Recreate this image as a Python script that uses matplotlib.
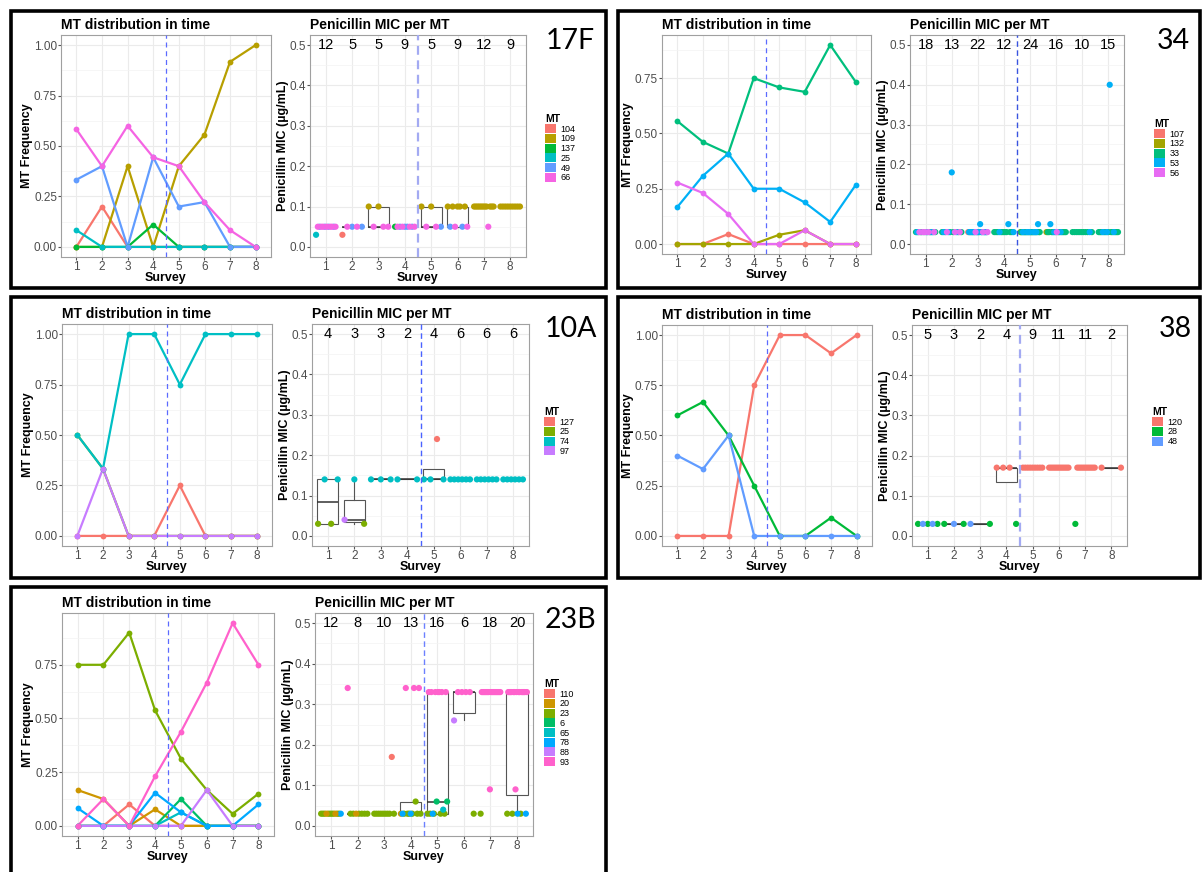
import numpy as np
import matplotlib.pyplot as plt
from matplotlib.patches import Patch, Rectangle

plt.rcParams['font.family'] = ['Liberation Sans', 'DejaVu Sans']

W, H = 1203, 872
surveys = [1, 2, 3, 4, 5, 6, 7, 8]

# ---- 17F ----
F17_mts = ['104', '109', '137', '25', '49', '66']
F17_freq = [
    [0, 0.2, 0, 0, 0, 0, 0, 0],
    [0, 0, 0.4, 0, 0.4, 0.556, 0.917, 1.0],
    [0, 0, 0, 0.111, 0, 0, 0, 0],
    [0.083, 0, 0, 0, 0, 0, 0, 0],
    [0.333, 0.4, 0, 0.444, 0.2, 0.222, 0, 0],
    [0.583, 0.4, 0.6, 0.444, 0.4, 0.222, 0.083, 0],
]
F17_counts = [12, 5, 5, 9, 5, 9, 12, 9]
# (survey, MT, MIC, number of isolates)
F17_mic = [
    (1, '25', 0.03, 1), (1, '49', 0.05, 4), (1, '66', 0.05, 7),
    (2, '104', 0.03, 1), (2, '49', 0.05, 2), (2, '66', 0.05, 2),
    (3, '109', 0.10, 2), (3, '66', 0.05, 3),
    (4, '137', 0.05, 1), (4, '49', 0.05, 4), (4, '66', 0.05, 4),
    (5, '109', 0.10, 2), (5, '49', 0.05, 1), (5, '66', 0.05, 2),
    (6, '109', 0.10, 5), (6, '49', 0.05, 2), (6, '66', 0.05, 2),
    (7, '109', 0.10, 11), (7, '66', 0.05, 1),
    (8, '109', 0.10, 9),
]

# ---- 34 ----
P34_mts = ['107', '132', '33', '53', '56']
P34_freq = [
    [0, 0, 0.045, 0, 0, 0, 0, 0],
    [0, 0, 0, 0, 0.042, 0.0625, 0, 0],
    [0.556, 0.462, 0.409, 0.75, 0.708, 0.688, 0.9, 0.733],
    [0.167, 0.308, 0.409, 0.25, 0.25, 0.188, 0.1, 0.267],
    [0.278, 0.231, 0.136, 0, 0, 0.0625, 0, 0],
]
P34_counts = [18, 13, 22, 12, 24, 16, 10, 15]
P34_mic = [
    (1, '33', 0.03, 10), (1, '53', 0.03, 3), (1, '56', 0.03, 5),
    (2, '33', 0.03, 6), (2, '53', 0.03, 3), (2, '53', 0.18, 1), (2, '56', 0.03, 3),
    (3, '107', 0.03, 1), (3, '53', 0.05, 1), (3, '33', 0.03, 9), (3, '53', 0.03, 8), (3, '56', 0.03, 3),
    (4, '33', 0.03, 9), (4, '53', 0.03, 2), (4, '53', 0.05, 1),
    (5, '132', 0.03, 1), (5, '33', 0.03, 17), (5, '53', 0.03, 5), (5, '53', 0.05, 1),
    (6, '132', 0.03, 1), (6, '33', 0.03, 11), (6, '53', 0.03, 2), (6, '53', 0.05, 1), (6, '56', 0.03, 1),
    (7, '33', 0.03, 9), (7, '53', 0.03, 1),
    (8, '33', 0.03, 11), (8, '53', 0.03, 3), (8, '53', 0.40, 1),
]

# ---- 10A ----
A10_mts = ['127', '25', '74', '97']
A10_freq = [
    [0, 0, 0, 0, 0.25, 0, 0, 0],
    [0.5, 0.333, 0, 0, 0, 0, 0, 0],
    [0.5, 0.333, 1, 1, 0.75, 1, 1, 1],
    [0, 0.333, 0, 0, 0, 0, 0, 0],
]
A10_counts = [4, 3, 3, 2, 4, 6, 6, 6]
A10_mic = [
    (1, '25', 0.03, 2), (1, '74', 0.14, 2),
    (2, '97', 0.04, 1), (2, '25', 0.03, 1), (2, '74', 0.14, 1),
    (3, '74', 0.14, 3), (4, '74', 0.14, 2),
    (5, '74', 0.14, 1), (5, '127', 0.24, 1), (5, '74', 0.14, 2),
    (6, '74', 0.14, 6), (7, '74', 0.14, 6), (8, '74', 0.14, 6),
]

# ---- 38 ----
P38_mts = ['120', '28', '48']
P38_freq = [
    [0, 0, 0, 0.75, 1, 1, 0.909, 1],
    [0.6, 0.667, 0.5, 0.25, 0, 0, 0.091, 0],
    [0.4, 0.333, 0.5, 0, 0, 0, 0, 0],
]
P38_counts = [5, 3, 2, 4, 9, 11, 11, 2]
P38_mic = [
    (1, '28', 0.03, 3), (1, '48', 0.03, 2),
    (2, '28', 0.03, 2), (2, '48', 0.03, 1),
    (3, '48', 0.03, 1), (3, '28', 0.03, 1),
    (4, '120', 0.17, 3), (4, '28', 0.03, 1),
    (5, '120', 0.17, 9), (6, '120', 0.17, 11),
    (7, '28', 0.03, 1), (7, '120', 0.17, 10),
    (8, '120', 0.17, 2),
]

# ---- 23B ----
B23_mts = ['110', '20', '23', '6', '65', '78', '88', '93']
B23_freq = [
    [0, 0, 0.1, 0, 0, 0, 0, 0],
    [0.167, 0.125, 0, 0.077, 0, 0, 0, 0],
    [0.75, 0.75, 0.9, 0.538, 0.313, 0.167, 0.056, 0.15],
    [0, 0, 0, 0, 0.125, 0, 0, 0],
    [0, 0, 0, 0, 0.063, 0, 0, 0],
    [0.083, 0, 0, 0.154, 0.063, 0, 0, 0.1],
    [0, 0, 0, 0, 0, 0.167, 0, 0],
    [0, 0.125, 0, 0.231, 0.438, 0.667, 0.944, 0.75],
]
B23_counts = [12, 8, 10, 13, 16, 6, 18, 20]
B23_mic = [
    (1, '23', 0.03, 9), (1, '78', 0.03, 1), (1, '20', 0.03, 2),
    (2, '93', 0.34, 1), (2, '23', 0.03, 6), (2, '20', 0.03, 1),
    (3, '23', 0.03, 9), (3, '110', 0.17, 1),
    (4, '20', 0.03, 1), (4, '23', 0.03, 6), (4, '23', 0.06, 1), (4, '78', 0.03, 2), (4, '93', 0.34, 3),
    (5, '23', 0.03, 5), (5, '6', 0.06, 2), (5, '65', 0.04, 1), (5, '78', 0.03, 1), (5, '93', 0.33, 7),
    (6, '88', 0.26, 1), (6, '23', 0.03, 1), (6, '93', 0.33, 4),
    (7, '23', 0.03, 1), (7, '93', 0.33, 16), (7, '93', 0.09, 1),
    (8, '23', 0.03, 3), (8, '78', 0.03, 2), (8, '93', 0.33, 14), (8, '93', 0.09, 1),
]

# ggplot default hue palettes
pal = {
    3: ['#F8766D', '#00BA38', '#619CFF'],
    4: ['#F8766D', '#7CAE00', '#00BFC4', '#C77CFF'],
    5: ['#F8766D', '#A3A500', '#00BF7D', '#00B0F6', '#E76BF3'],
    6: ['#F8766D', '#B79F00', '#00BA38', '#00BFC4', '#619CFF', '#F564E3'],
    8: ['#F8766D', '#CD9600', '#7CAE00', '#00BE67', '#00BFC4', '#00A9FF', '#C77CFF', '#FF61CC'],
}

# layout in pixels: frame, left axes, right axes, legend anchor, label pos, dashed line styles
panels = [
    dict(name='17F', mts=F17_mts, freq=F17_freq, counts=F17_counts, mic=F17_mic,
         frame=(11, 11, 606, 288), L=(61, 35, 271, 257), R=(310, 35, 526, 257),
         leg=(545, 114), lab=(546, 49), vr=('#a3aaf2', 1.6)),
    dict(name='34', mts=P34_mts, freq=P34_freq, counts=P34_counts, mic=P34_mic,
         frame=(618, 11, 1200, 288), L=(662, 35, 871, 254), R=(910, 35, 1124, 254),
         leg=(1154, 119), lab=(1157, 49), vr=('#3a55e0', 1.0)),
    dict(name='10A', mts=A10_mts, freq=A10_freq, counts=A10_counts, mic=A10_mic,
         frame=(11, 297, 606, 578), L=(62, 324, 272, 546), R=(312, 324, 529, 546),
         leg=(544, 407), lab=(545, 337), vr=('#4a62ff', 1.0)),
    dict(name='38', mts=P38_mts, freq=P38_freq, counts=P38_counts, mic=P38_mic,
         frame=(618, 297, 1200, 578), L=(662, 325, 872, 546), R=(912, 325, 1127, 546),
         leg=(1152, 407), lab=(1159, 337), vr=('#a3aaf2', 1.6)),
    dict(name='23B', mts=B23_mts, freq=B23_freq, counts=B23_counts, mic=B23_mic,
         frame=(11, 587, 606, 880), L=(62, 613, 274, 836), R=(315, 613, 533, 836),
         leg=(544, 679), lab=(545, 628), vr=('#6c80ff', 1.0)),
]

fig = plt.figure(figsize=(W / 100, H / 100), dpi=100)


def add_ax(l, t, r, b):
    return fig.add_axes([l / W, 1 - b / H, (r - l) / W, (b - t) / H])


def style(ax, box, ylabel, ypad):
    l, t, r, b = box
    ax.set_facecolor('white')
    ax.set_axisbelow(True)
    ax.grid(True, which='major', color='#ebebeb', lw=0.8)
    ax.grid(True, which='minor', axis='y', color='#f3f3f3', lw=0.5)
    for s in ax.spines.values():
        s.set_color('#a0a0a0')
        s.set_linewidth(0.8)
    ax.tick_params(which='major', length=2, color='#555555', labelsize=8.5,
                   labelcolor='#4d4d4d', pad=0.8)
    ax.tick_params(which='minor', length=0)
    ax.set_xlim(0.4, 8.6)
    ax.set_xticks(surveys)
    ax.set_xlabel('Survey', fontweight='bold', fontsize=9)
    ax.xaxis.set_label_coords(0.5, -15 / (b - t))
    ax.set_ylabel(ylabel, fontweight='bold', fontsize=9)
    ax.yaxis.set_label_coords(-ypad / (r - l), 0.5)


for p in panels:
    cols = pal[len(p['mts'])]
    cmap = dict(zip(p['mts'], cols))

    # frequency over time
    ax = add_ax(*p['L'])
    style(ax, p['L'], 'MT Frequency', 28)
    for i, f in enumerate(p['freq']):
        ax.plot(surveys, f, color=cols[i], lw=1.6, zorder=2)
    for i, f in enumerate(p['freq']):
        ax.plot(surveys, f, 'o', color=cols[i], ms=4.2, mec='none', zorder=3)
    ymax = max(max(f) for f in p['freq'])
    ax.set_ylim(-0.05 * ymax, 1.05 * ymax)
    ax.set_yticks([t for t in [0, 0.25, 0.5, 0.75, 1.0] if t <= ymax + 1e-9])
    ax.set_yticks([0.125, 0.375, 0.625, 0.875], minor=True)
    ax.yaxis.set_major_formatter(plt.FormatStrFormatter('%.2f'))
    ax.axvline(4.5, color='#5c6bff', lw=0.9, ls=(0, (4, 3)), zorder=4)
    ax.set_title('MT distribution in time', loc='left', fontweight='bold',
                 fontsize=10, pad=4)

    # MIC per survey
    ax2 = add_ax(*p['R'])
    values = {s: [] for s in surveys}
    pts = {s: [] for s in surveys}
    for s, mt, v, n in p['mic']:
        for _ in range(n):
            values[s].append(v)
            pts[s].append((v, cmap[mt]))
    ax2.boxplot([values[s] for s in surveys], positions=surveys, widths=0.8,
                showfliers=False, patch_artist=True, manage_ticks=False,
                boxprops=dict(facecolor='white', edgecolor='#555555', lw=0.8),
                medianprops=dict(color='#333333', lw=1.1),
                whiskerprops=dict(color='#555555', lw=0.8),
                capprops=dict(visible=False), zorder=2)
    style(ax2, p['R'], 'Penicillin MIC (µg/mL)', 21)
    for s in surveys:
        n = len(pts[s])
        xs = np.linspace(-0.37, 0.37, n) if n > 1 else np.zeros(1)
        order = np.argsort((np.arange(n) * 0.618) % 1)
        for k, (v, c) in enumerate(pts[s]):
            ax2.scatter(s + xs[order[k]], v, s=20, color=c, edgecolors='none', zorder=3)
        ax2.text(s, 0.5, str(p['counts'][s - 1]), ha='center', va='center',
                 fontsize=10.5, color='black', zorder=4)
    ax2.set_ylim(-0.025, 0.525)
    ax2.set_yticks([0, 0.1, 0.2, 0.3, 0.4, 0.5])
    ax2.set_yticks([0.05, 0.15, 0.25, 0.35, 0.45], minor=True)
    ax2.yaxis.set_major_formatter(plt.FormatStrFormatter('%.1f'))
    ax2.axvline(4.5, color=p['vr'][0], lw=p['vr'][1], ls=(0, (4, 2.5)), zorder=4)
    ax2.set_title('Penicillin MIC per MT', loc='left', fontweight='bold',
                  fontsize=10, pad=4)

    # legend
    handles = [Patch(facecolor=c, edgecolor='none') for c in cols]
    fig.legend(handles, p['mts'], loc='upper left',
               bbox_to_anchor=(p['leg'][0] / W, 1 - p['leg'][1] / H),
               frameon=False, title='MT', fontsize=6.5,
               title_fontproperties={'weight': 'bold', 'size': 7.5},
               handlelength=1.2, handleheight=1.15, labelspacing=0.02,
               handletextpad=0.55, borderpad=0, borderaxespad=0, alignment='left')

    # panel label and frame
    fig.text(p['lab'][0] / W, 1 - p['lab'][1] / H, p['name'], fontsize=20.5,
             family=['Lato', 'DejaVu Sans'], va='baseline', ha='left')
    x0, y0, x1, y1 = p['frame']
    fig.add_artist(Rectangle((x0 / W, 1 - y1 / H), (x1 - x0) / W, (y1 - y0) / H,
                             transform=fig.transFigure, fill=False, lw=2.6,
                             ec='black'))

fig.savefig('out.png', dpi=100)
